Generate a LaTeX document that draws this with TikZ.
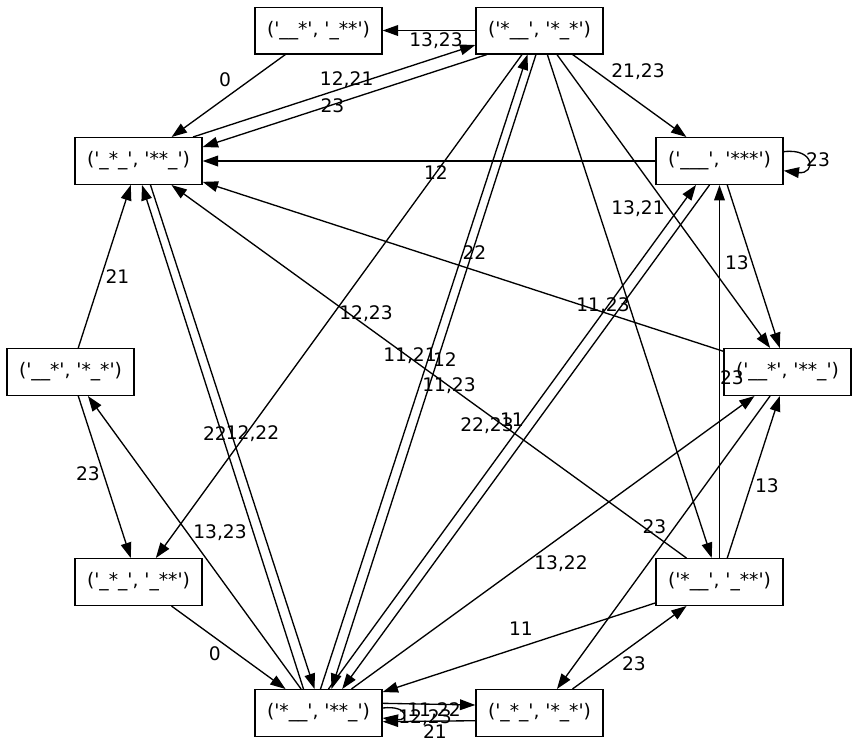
\documentclass[tikz,border=0pt]{standalone}
\usepackage{fontspec}
\setmainfont{DejaVu Sans}
\usetikzlibrary{arrows.meta}

\newcommand{\etq}[2]{(\textquotesingle#1\textquotesingle, \textquotesingle#2\textquotesingle)}

\begin{document}
\begin{tikzpicture}[x=0.75bp,y=-0.75bp,
  etat/.style={draw,line width=1bp,minimum width=95.25bp,minimum height=35bp,
    inner sep=0pt,font=\fontsize{14bp}{17bp}\selectfont},
  arc/.style={line width=1bp,-{Triangle[length=11.5bp,width=8bp]}},
  lab/.style={inner sep=0pt,font=\fontsize{14bp}{17bp}\selectfont}]

\useasboundingbox (0,0) rectangle (859,749);

% Etats
\node[etat] (n1) at (318.5,30.5) {\etq{\_\_*}{\_**}};
\node[etat] (n2) at (539.5,30.5) {\etq{*\_\_}{*\_*}};
\node[etat] (n3) at (138.5,161) {\etq{\_*\_}{**\_}};
\node[etat] (n4) at (719.5,161) {\etq{\_\_\_}{***}};
\node[etat] (n5) at (70.5,372) {\etq{\_\_*}{*\_*}};
\node[etat] (n6) at (787.5,372) {\etq{\_\_*}{**\_}};
\node[etat] (n7) at (138.5,582) {\etq{\_*\_}{\_**}};
\node[etat] (n8) at (719.5,582) {\etq{*\_\_}{\_**}};
\node[etat] (n9) at (318.5,713) {\etq{*\_\_}{**\_}};
\node[etat] (n10) at (539.5,713) {\etq{\_*\_}{*\_*}};

% Aretes simples
\draw[arc] (n2) -- (n1) node[lab] (l1) at (436,41) {13,23};
\draw[arc] (n1) -- (n3) node[lab] (l2) at (225,80) {0};
\draw[arc] (n4) -- (n3) node[lab] (l5) at (436,172.5) {12};
\draw[arc] (n2) -- (n4) node[lab] (l7) at (638,72) {21,23};
\draw[arc] (n2) -- (n6) node[lab] (l8) at (638,209) {13,21};
\draw[arc] (n2) -- (n8) node[lab] (l9) at (603,306) {11,23};
\draw[arc] (n2) -- (n7) node[lab] (l10) at (366,314) {12,23};
\draw[arc] (n8) -- (n3) node[lab] (l13) at (449,386) {11,23};
\draw[arc] (n4) -- (n6) node[lab] (l16) at (737,263) {13};
\draw[arc] (n6) -- (n3) node[lab] (l17) at (474.5,252.5) {22};
\draw[arc] (n8) -- (n4) node[lab] (l18) at (732,378) {23};
\draw[arc] (n5) -- (n3) node[lab] (l19) at (117.5,277) {21};
\draw[arc] (n5) -- (n7) node[lab] (l20) at (88,473.5) {23};
\draw[arc] (n9) -- (n5) node[lab] (l21) at (220,532.5) {13,23};
\draw[arc] (n7) -- (n9) node[lab] (l24) at (214.7,653.3) {0};
\draw[arc] (n6) -- (n10) node[lab] (l25) at (654.5,526.7) {23};
\draw[arc] (n8) -- (n6) node[lab] (l26) at (767,486) {13};
\draw[arc] (n9) -- (n6) node[lab] (l27) at (561,564) {13,22};
\draw[arc] (n8) -- (n9) node[lab] (l28) at (521,629) {11};
\draw[arc] (n10) -- (n8) node[lab] (l29) at (634,664) {23};

% Aretes doubles (decalees)
\draw[arc] ([shift={(54.5,0)}]n3.north) -- ([shift={(0,14.5)}]n2.west)
  node[lab] (l3) at (346.7,80) {12,21};
\draw[arc] ([shift={(-52.5,0)}]n2.south) -- ([shift={(0,-14)}]n3.east)
  node[lab] (l4) at (332.5,106) {23};
\draw[arc] ([shift={(2,0)}]n9.north) -- ([shift={(-12,0)}]n2.south)
  node[lab] (l11) at (410,356) {11,21};
\draw[arc] ([shift={(-3.5,0)}]n2.south) -- ([shift={(13,0)}]n9.north)
  node[lab] (l12) at (445,359.5) {12};
\draw[arc] ([shift={(10,0)}]n9.north) -- ([shift={(-23.5,0)}]n4.south)
  node[lab] (l14) at (487,426) {22,23};
\draw[arc] ([shift={(-10,0)}]n4.south) -- ([shift={(23.7,0)}]n9.north)
  node[lab] (l15) at (512,420) {11};
\draw[arc] ([shift={(-15,0)}]n9.north) -- ([shift={(3.5,0)}]n3.south)
  node[lab] (l22) at (215,434) {22};
\draw[arc] ([shift={(12,0)}]n3.south) -- ([shift={(-4,0)}]n9.north)
  node[lab] (l23) at (252.5,434) {12,22};
\draw[arc] ([shift={(0,-9.7)}]n9.east) -- ([shift={(0,-8)}]n10.west)
  node[lab] (l30) at (434,711) {11,22};
\draw[arc] ([shift={(0,7.7)}]n10.west) -- ([shift={(0,8.7)}]n9.east)
  node[lab] (l32) at (435,732) {21};

% Boucles
\draw[arc] ([shift={(0,-9.3)}]n4.east) .. controls +(32,-4) and +(32,4)
  .. ([shift={(0,9.7)}]n4.east) node[lab] (l6) at (818,160) {23};
\draw[arc] ([shift={(0,-5)}]n9.east) .. controls +(26,-3) and +(26,3)
  .. ([shift={(0,5)}]n9.east) node[lab] (l31) at (425,718) {12,23};

\end{tikzpicture}
\end{document}
